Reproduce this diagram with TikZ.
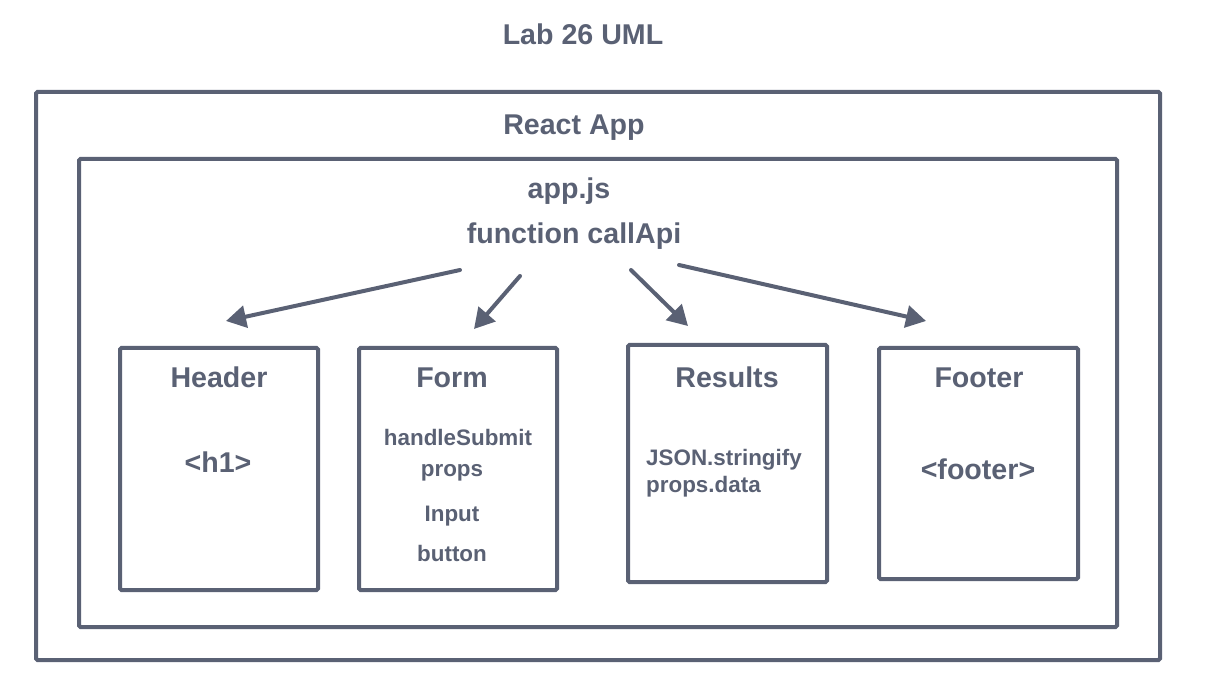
\documentclass[tikz,border=0pt]{standalone}
\usepackage{fontspec}
\setmainfont{Liberation Sans}
\usetikzlibrary{arrows.meta}
\definecolor{ink}{RGB}{90,97,116}
\begin{document}
\begin{tikzpicture}[x=1pt,y=-1pt,
  frame/.style={draw=ink,line width=4pt,rounded corners=1.5pt,inner sep=0pt},
  big/.style={text=ink,font=\fontsize{28.6}{32}\selectfont\bfseries,anchor=base,inner sep=0pt},
  small/.style={text=ink,font=\fontsize{22.4}{26}\selectfont\bfseries,anchor=base,inner sep=0pt},
  conn/.style={draw=ink,line width=4pt,line cap=round,-{Triangle[length=20pt,width=22pt]}}]
\useasboundingbox (0,0) rectangle (1208,692);
% boxes
\node[frame,minimum width=1124pt,minimum height=568pt] (outer) at (598,376) {};
\node[frame,minimum width=1038pt,minimum height=468pt] (inner) at (598,393) {};
\node[frame,minimum width=198pt,minimum height=242pt] (header) at (219,469) {};
\node[frame,minimum width=198pt,minimum height=242pt] (form) at (458,469) {};
\node[frame,minimum width=199pt,minimum height=237pt] (results) at (727.5,463.5) {};
\node[frame,minimum width=199pt,minimum height=231pt] (footer) at (978.5,463.5) {};
% texts
\node[big] (title) at (583,45) {Lab 26 UML};
\node[big] (react) at (574,135) {React App};
\node[big] (appjs) at (569,199) {app.js};
\node[big] (callapi) at (574,244) {function callApi};
\node[big] (headerT) at (219,388) {Header};
\node[big] (h1) at (218,472) {<h1>};
\node[big] (formT) at (452,388) {Form};
\node[small] (hs) at (458,446) {handleSubmit};
\node[small] (props) at (452,477) {props};
\node[small] (input) at (452,521) {Input};
\node[small] (button) at (452,561) {button};
\node[big] (resultsT) at (727,388) {Results};
\node[small,anchor=base west] (json) at (646,465) {JSON.stringify};
\node[small,anchor=base west] (pdata) at (646,493) {props.data};
\node[big] (footerT) at (979,388) {Footer};
\node[big] (foot) at (978,479) {<footer>};
% connectors
\coordinate (s1) at (460,270); \coordinate (e1) at (226,321);
\coordinate (s2) at (520,276); \coordinate (e2) at (474,329);
\coordinate (s3) at (631,270); \coordinate (e3) at (688,326);
\coordinate (s4) at (679,265); \coordinate (e4) at (926,321);
\draw[conn] (s1) -- (e1);
\draw[conn] (s2) -- (e2);
\draw[conn] (s3) -- (e3);
\draw[conn] (s4) -- (e4);
\end{tikzpicture}
\end{document}
